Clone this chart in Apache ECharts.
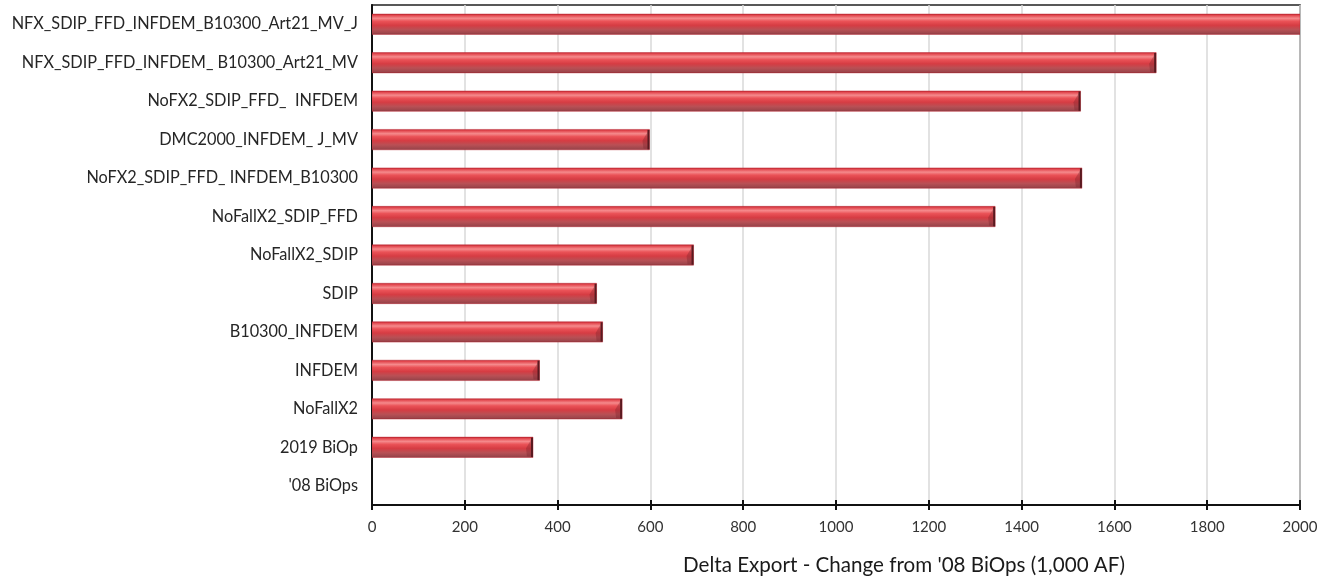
<!DOCTYPE html>
<html>
<head>
<meta charset="utf-8">
<script src="https://cdn.jsdelivr.net/npm/echarts@6/dist/echarts.min.js"></script>
<style>
  html, body { margin: 0; padding: 0; background: #fff; }
  #chart { width: 1332px; height: 582px; }
</style>
</head>
<body>
<div id="chart"></div>
<script>
// Scenario names, listed from top to bottom
const categories = [
  'NFX_SDIP_FFD_INFDEM_B10300_Art21_MV_J',
  'NFX_SDIP_FFD_INFDEM_ B10300_Art21_MV',
  'NoFX2_SDIP_FFD_  INFDEM',
  'DMC2000_INFDEM_ J_MV',
  'NoFX2_SDIP_FFD_ INFDEM_B10300',
  'NoFallX2_SDIP_FFD',
  'NoFallX2_SDIP',
  'SDIP',
  'B10300_INFDEM',
  'INFDEM',
  'NoFallX2',
  '2019 BiOp',
  "'08 BiOps"
];

// Change in Delta export relative to the '08 BiOps (1,000 AF)
const deltaExport = [2000, 1690, 1527, 598, 1530, 1343, 693, 484, 497, 361, 539, 347, 0];

const axisMin = 0;
const axisMax = 2000;
const axisStep = 200;
const axisTitle = "Delta Export - Change from '08 BiOps (1,000 AF)";

const FONT = 'Lato, "Open Sans", sans-serif';

// Cylinder-style shading for each bar
const barFill = {
  type: 'linear', x: 0, y: 0, x2: 0, y2: 1,
  colorStops: [
    { offset: 0.00, color: '#b01c28' },
    { offset: 0.08, color: '#e2474e' },
    { offset: 0.22, color: '#f58a8c' },
    { offset: 0.36, color: '#ea5257' },
    { offset: 0.55, color: '#d63c43' },
    { offset: 0.75, color: '#b95055' },
    { offset: 0.92, color: '#9e464c' },
    { offset: 1.00, color: '#88343b' }
  ]
};

function renderBar(params, api) {
  const value = api.value(0);
  const idx = api.value(1);
  if (!value) return null;
  const start = api.coord([axisMin, idx]);
  const end = api.coord([value, idx]);
  const h = api.size([0, 1])[1] * 0.53;
  const x0 = start[0];
  const x1 = end[0];
  const y0 = start[1] - h / 2;
  const children = [{
    type: 'rect',
    shape: { x: x0, y: y0, width: x1 - x0, height: h },
    style: { fill: barFill, stroke: 'rgba(190,40,50,0.55)', lineWidth: 0.8 }
  }];
  if (value < axisMax) {
    // bevelled end cap
    children.push({
      type: 'polygon',
      shape: { points: [[x1 - 7, y0 + h * 0.55], [x1 - 1.5, y0 + 2], [x1 - 1.5, y0 + h - 1], [x1 - 6, y0 + h - 1]] },
      style: { fill: 'rgba(120,35,42,0.35)' }
    });
    children.push({
      type: 'rect',
      shape: { x: x1 - 2, y: y0 + 0.5, width: 2, height: h - 1 },
      style: { fill: '#5a1a20' }
    });
  }
  return { type: 'group', children: children };
}

const chart = echarts.init(document.getElementById('chart'), null, { renderer: 'canvas' });

chart.setOption({
  animation: false,
  backgroundColor: '#ffffff',
  grid: {
    left: 372, right: 32, top: 5, height: 500,
    show: true, borderColor: '#222', borderWidth: 1.5, backgroundColor: 'transparent'
  },
  xAxis: [{
    type: 'value',
    min: axisMin, max: axisMax, interval: axisStep,
    axisLine: { show: true, onZero: false, lineStyle: { color: '#111', width: 2 } },
    axisTick: { show: true, length: 5, lineStyle: { color: '#111', width: 2 } },
    axisLabel: { margin: 15, fontFamily: FONT, fontSize: 15, color: '#333', formatter: v => String(v) },
    splitLine: { show: true, lineStyle: { color: '#d9d9d9', width: 1.5 } }
  }, {
    // inward half of the crossing ticks
    type: 'value',
    position: 'bottom',
    min: axisMin, max: axisMax, interval: axisStep,
    axisLine: { show: false },
    axisTick: { show: true, inside: true, length: 5, lineStyle: { color: '#111', width: 2 } },
    axisLabel: { show: false },
    splitLine: { show: false }
  }],
  yAxis: {
    type: 'category',
    data: categories,
    inverse: true,
    axisLine: { show: true, lineStyle: { color: '#111', width: 2 } },
    axisTick: { show: false },
    axisLabel: { margin: 14, fontFamily: FONT, fontSize: 16.3, color: '#262626' }
  },
  series: [{
    type: 'custom',
    xAxisIndex: 0,
    renderItem: renderBar,
    encode: { x: 0, y: 1 },
    data: deltaExport.map((v, i) => [v, i]),
    clip: true,
    z: 3
  }],
  graphic: [{
    type: 'text',
    left: 683,
    top: 555,
    style: {
      text: axisTitle,
      fontFamily: FONT,
      fontSize: 20.6,
      fill: '#1a1a1a'
    }
  }]
});
</script>
</body>
</html>
